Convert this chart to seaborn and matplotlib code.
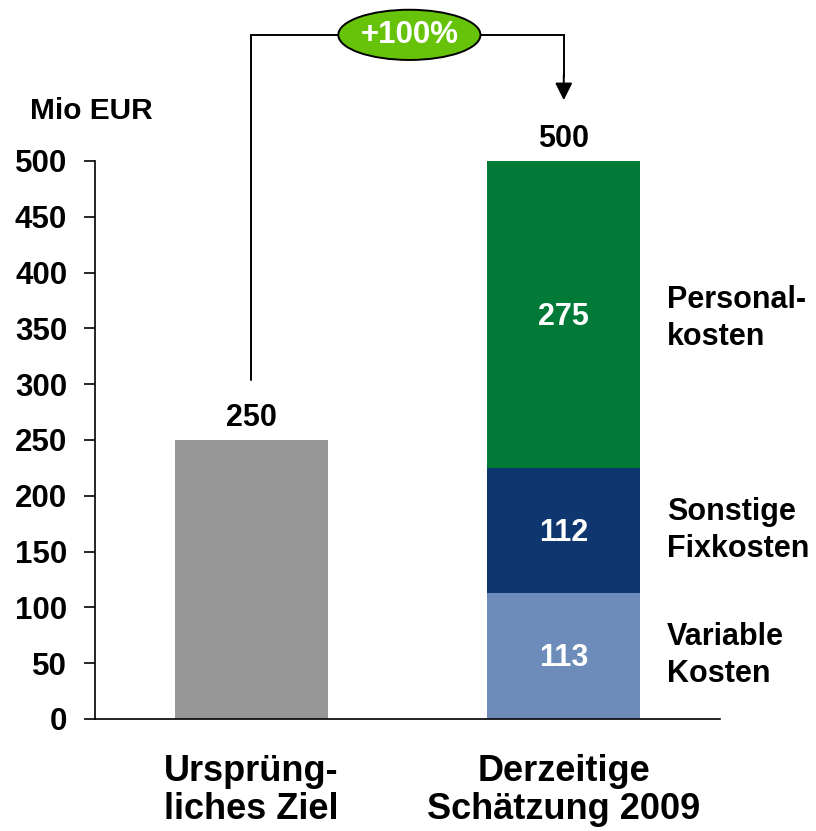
import matplotlib
matplotlib.use("Agg")
import matplotlib.pyplot as plt
import pandas as pd
import seaborn as sns
from matplotlib.patches import Ellipse

CATEGORIES = ["Ursprüng-\nliches Ziel", "Derzeitige\nSchätzung 2009"]
TARGET = 250
SEGMENT_NAMES = ["Variable\nKosten", "Sonstige\nFixkosten", "Personal-\nkosten"]
SEGMENT_VALUES = [113, 112, 275]
SEGMENT_COLORS = ["#6E8CB9", "#0E3770", "#007A36"]
GROWTH_LABEL = "+100%"
Y_TICKS = list(range(0, 501, 50))
Y_UNIT = "Mio EUR"

sns.set_theme(style="white")
plt.rcParams["font.family"] = ["Liberation Sans", "DejaVu Sans"]
plt.rcParams["font.weight"] = "bold"
plt.rcParams["text.color"] = "black"
plt.rcParams["xtick.color"] = "black"
plt.rcParams["ytick.color"] = "black"

fig = plt.figure(figsize=(8.16, 8.31), dpi=100)
ax = fig.add_axes([0.1164, 0.1348, 0.766, 0.6715])

# left bar: original target
left = pd.DataFrame({"cat": [CATEGORIES[0]], "value": [TARGET]})
sns.barplot(data=left, x="cat", y="value", order=CATEGORIES, color="#969696",
            saturation=1, width=0.49, linewidth=0, ax=ax)

# right bar: stacked by drawing cumulative totals from largest to smallest
cum = pd.Series(SEGMENT_VALUES).cumsum().tolist()
for total, color in reversed(list(zip(cum, SEGMENT_COLORS))):
    seg = pd.DataFrame({"cat": [CATEGORIES[1]], "value": [total]})
    sns.barplot(data=seg, x="cat", y="value", order=CATEGORIES, color=color,
                saturation=1, width=0.49, linewidth=0, ax=ax)

ax.set_xlim(-0.5, 1.5)
ax.set_ylim(0, 500)
ax.set_yticks(Y_TICKS)
ax.set_xlabel("")
ax.set_ylabel("")
sns.despine(ax=ax)
for side in ["left", "bottom"]:
    ax.spines[side].set_color("black")
    ax.spines[side].set_linewidth(1.2)
ax.tick_params(axis="y", length=8, width=1.2, color="black", pad=12, labelsize=22.5, left=True)
ax.tick_params(axis="x", length=0, pad=25, labelsize=26)
for lab in ax.get_xticklabels() + ax.get_yticklabels():
    lab.set_fontweight("bold")
    lab.set_color("black")
for lab in ax.get_xticklabels():
    lab.set_linespacing(1.12)

# value labels
total = cum[-1]
ax.text(0, TARGET + 20, f"{TARGET}", ha="center", va="center", fontsize=22, fontweight="bold")
ax.text(1, total + 20, f"{total}", ha="center", va="center", fontsize=22, fontweight="bold", clip_on=False)
bottoms = [0] + cum[:-1]
for b, v in zip(bottoms, SEGMENT_VALUES):
    ax.text(1, b + v / 2 - 2, f"{v}", ha="center", va="center", color="white",
            fontsize=22, fontweight="bold")
label_y = [b + v / 2 for b, v in zip(bottoms, SEGMENT_VALUES)]
label_y[-1] -= 4
for y, name in zip(label_y, SEGMENT_NAMES):
    ax.text(1.33, y, name, ha="left", va="center", fontsize=22, fontweight="bold",
            linespacing=1.3, clip_on=False)

ax.text(-0.708, 545, Y_UNIT, ha="left", va="center",
        fontsize=21.5, fontweight="bold", clip_on=False)

# connector with growth bubble
top_y = 613
ax.plot([0, 0, 1, 1], [TARGET + 54, top_y, top_y, 575], color="black", lw=1.4,
        clip_on=False, solid_joinstyle="miter")
ax.annotate("", xy=(1, 552), xytext=(1, 580),
            arrowprops=dict(arrowstyle="-|>", color="black", lw=1.4, mutation_scale=26),
            annotation_clip=False)
ell = Ellipse((0.506, top_y), width=0.455, height=45, facecolor="#66C30A",
              edgecolor="black", lw=1.4, clip_on=False, zorder=5)
ax.add_patch(ell)
ax.text(0.506, top_y, GROWTH_LABEL, ha="center", va="center", color="white",
        fontsize=22.5, fontweight="bold", zorder=6, clip_on=False)

fig.savefig("out.png", dpi=100)
